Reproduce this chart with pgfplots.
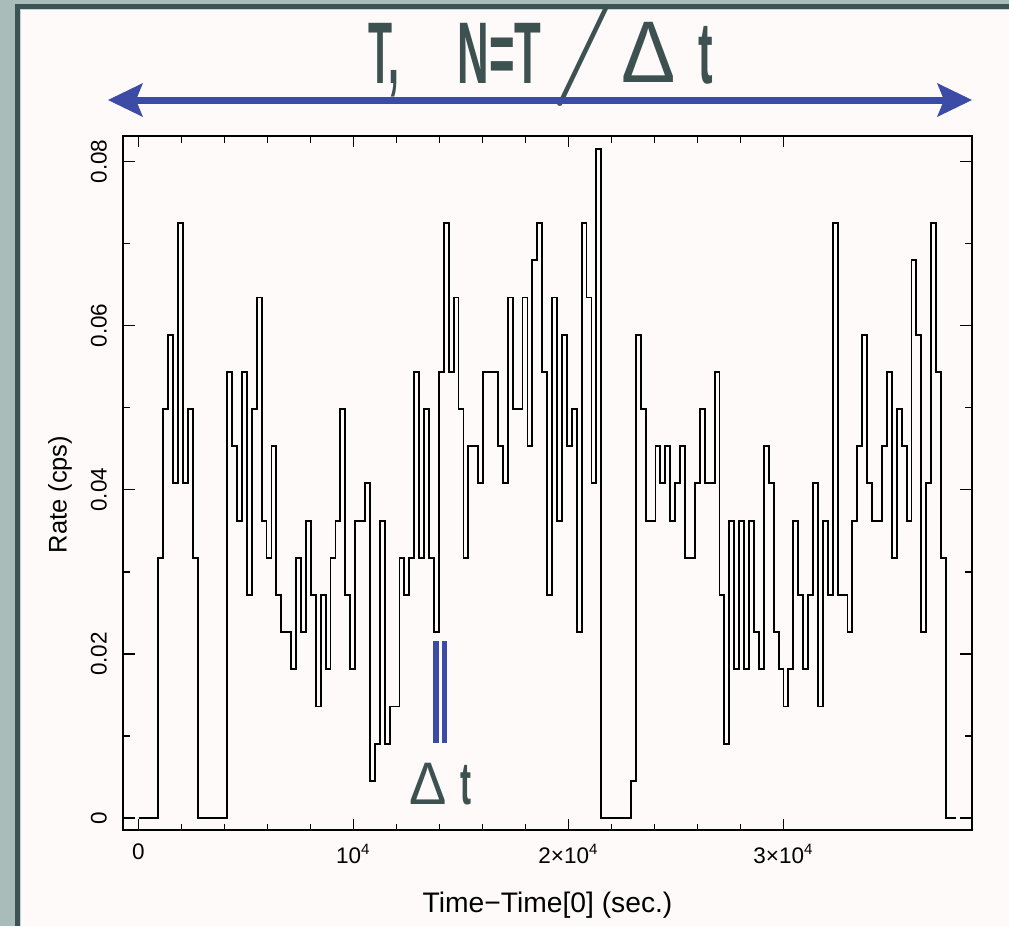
\documentclass[border=0pt]{standalone}
\usepackage{fontspec}
\setmainfont{Liberation Sans}
\usepackage{graphicx}
\usepackage{pgfplots}
\pgfplotsset{compat=1.18}
\usepackage{pgfplotstable}
\definecolor{bgw}{HTML}{FFFAFA}
\definecolor{framedark}{HTML}{3B5453}
\definecolor{outergrey}{HTML}{A9BCB9}
\definecolor{lightline}{HTML}{C5D2D2}
\definecolor{titlecol}{HTML}{3D5151}
\definecolor{arrowblue}{HTML}{3C4BA6}
\pgfplotstableread{
t rate
0 0
229 0
458 0
687 0
916 0.03171
1145 0.04983
1374 0.05889
1603 0.04077
1832 0.07248
2061 0.04077
2290 0.04983
2519 0.03171
2748 0
2977 0
3206 0
3435 0
3664 0
3893 0
4122 0.05436
4351 0.0453
4580 0.03624
4809 0.05436
5038 0.02718
5267 0.04983
5496 0.06342
5725 0.03624
5954 0.03171
6183 0.0453
6412 0.02718
6641 0.02265
6870 0.02265
7099 0.01812
7328 0.03171
7557 0.02265
7786 0.03624
8015 0.02718
8244 0.01359
8473 0.02718
8702 0.01812
8931 0.03171
9160 0.03624
9389 0.04983
9618 0.02718
9847 0.01812
10076 0.03624
10305 0.03624
10534 0.04077
10763 0.00453
10992 0.00906
11221 0.03624
11450 0.00906
11679 0.01359
11908 0.01359
12137 0.03171
12366 0.02718
12595 0.03171
12824 0.05436
13053 0.03171
13282 0.04983
13511 0.03171
13740 0.02265
13969 0.05436
14198 0.07248
14427 0.05436
14656 0.06342
14885 0.04983
15114 0.03171
15343 0.0453
15572 0.0453
15801 0.04077
16030 0.05436
16259 0.05436
16488 0.05436
16717 0.0453
16946 0.04077
17175 0.06342
17404 0.04983
17633 0.04983
17862 0.06342
18091 0.0453
18320 0.06795
18549 0.07248
18778 0.05436
19007 0.02718
19236 0.06342
19465 0.03624
19694 0.05889
19923 0.0453
20152 0.04983
20381 0.02265
20610 0.07248
20839 0.06342
21068 0.04077
21297 0.08154
21526 0
21755 0
21984 0
22213 0
22442 0
22671 0
22900 0.00453
23129 0.05889
23358 0.04983
23587 0.03624
23816 0.03624
24045 0.0453
24274 0.04077
24503 0.0453
24732 0.03624
24961 0.04077
25190 0.0453
25419 0.03171
25648 0.03171
25877 0.04077
26106 0.04983
26335 0.04077
26564 0.04077
26793 0.05436
27022 0.02718
27251 0.00906
27480 0.03624
27709 0.01812
27938 0.03624
28167 0.01812
28396 0.03624
28625 0.02265
28854 0.01812
29083 0.0453
29312 0.04077
29541 0.02265
29770 0.01812
29999 0.01359
30228 0.01812
30457 0.03624
30686 0.02718
30915 0.01812
31144 0.02718
31373 0.04077
31602 0.01359
31831 0.03624
32060 0.02718
32289 0.07248
32518 0.02718
32747 0.02718
32976 0.02265
33205 0.03624
33434 0.0453
33663 0.05889
33892 0.04077
34121 0.03624
34350 0.03624
34579 0.0453
34808 0.05436
35037 0.03171
35266 0.04983
35495 0.0453
35724 0.03624
35953 0.06795
36182 0.05889
36411 0.02265
36640 0.04077
36869 0.07248
37098 0.05436
37327 0.03171
37556 0
37785 0
38014 0
}\lcurve
\begin{document}
\begin{tikzpicture}
\begin{scope}[x=0.4pt,y=-0.4pt]
  \useasboundingbox (0,0) rectangle (1009,926);
  \fill[outergrey] (0,0) rectangle (1009,926);
  \fill[framedark] (15,4) rectangle (1009,926);
  \fill[lightline] (20,9) rectangle (1009,926);
  \fill[bgw] (21,10) rectangle (1009,926);
  % title
  \node[anchor=base west, inner sep=0, text=titlecol] at (368,83)
    {\fontsize{35}{35}\selectfont\bfseries\scalebox{0.45}[1]{T,}};
  \node[anchor=base west, inner sep=0, text=titlecol] at (457,83)
    {\fontsize{35}{35}\selectfont\bfseries\scalebox{0.5}[1]{N=T}};
  \node[anchor=base west, inner sep=0, text=titlecol] at (549.6,81)
    {\fontfamily{lmss}\fontsize{40}{40}\selectfont\scalebox{1.4}[1]{/}};
  \node[anchor=base west, inner sep=0, text=titlecol] at (621,82)
    {\fontsize{35}{35}\selectfont\scalebox{0.93}[1]{Δ}};
  \node[anchor=base west, inner sep=0, text=titlecol] at (698,83)
    {\fontsize{35}{35}\selectfont\bfseries\scalebox{0.5}[1]{t}};
  % arrow
  \draw[arrowblue, line width=2.8pt] (136,100) -- (944,100);
  \fill[arrowblue] (108,100) -- (143,83) -- (136,100) -- (143,117) -- cycle;
  \fill[arrowblue] (972,100) -- (937,83) -- (944,100) -- (937,117) -- cycle;
  % delta t bars
  \fill[arrowblue] (433.3,641) rectangle (439.3,742.7);
  \fill[arrowblue] (441.7,641) rectangle (447.3,742.7);
  \node[anchor=base west, inner sep=0, text=titlecol] at (409,804)
    {\fontsize{24}{24}\selectfont\scalebox{0.93}[1]{Δ}};
  \node[anchor=base west, inner sep=0, text=titlecol] at (460,804)
    {\fontsize{24}{24}\selectfont\bfseries\scalebox{0.55}[1]{t}};
\end{scope}
\begin{axis}[
  at={(49.32pt,-332pt)}, anchor=south west,
  scale only axis, width=339.36pt, height=277.6pt,
  xmin=-707, xmax=38753, ymin=-0.00146, ymax=0.0831,
  axis line style={line width=0.7pt},
  every tick/.style={line width=0.6pt, black},
  tick align=inside,
  major tick length=4.5pt, minor tick length=2.6pt,
  xtick={0,10000,20000,30000},
  xticklabels={0,10\textsuperscript{4},2×10\textsuperscript{4},3×10\textsuperscript{4}},
  minor x tick num=4,
  ytick={0,0.02,0.04,0.06,0.08},
  yticklabels={0,0.02,0.04,0.06,0.08},
  minor y tick num=1,
  tick label style={font=\fontsize{9}{9}\selectfont},
  yticklabel style={rotate=90, anchor=south},
  yticklabel shift=3pt,
  xticklabel shift=2pt,
  scaled ticks=false,
  xlabel={Time−Time[0] (sec.)},
  ylabel={Rate (cps)},
  xlabel style={font=\fontsize{11.3}{11.3}\selectfont, at={(axis description cs:0.5,-0.108)}, anchor=center},
  ylabel style={font=\fontsize{10.2}{10.2}\selectfont, at={(axis description cs:-0.0745,0.4834)}, anchor=center},
]
\addplot[const plot, black, line width=0.75pt] table[x=t, y=rate] {\lcurve};
\end{axis}
\end{tikzpicture}
\end{document}
